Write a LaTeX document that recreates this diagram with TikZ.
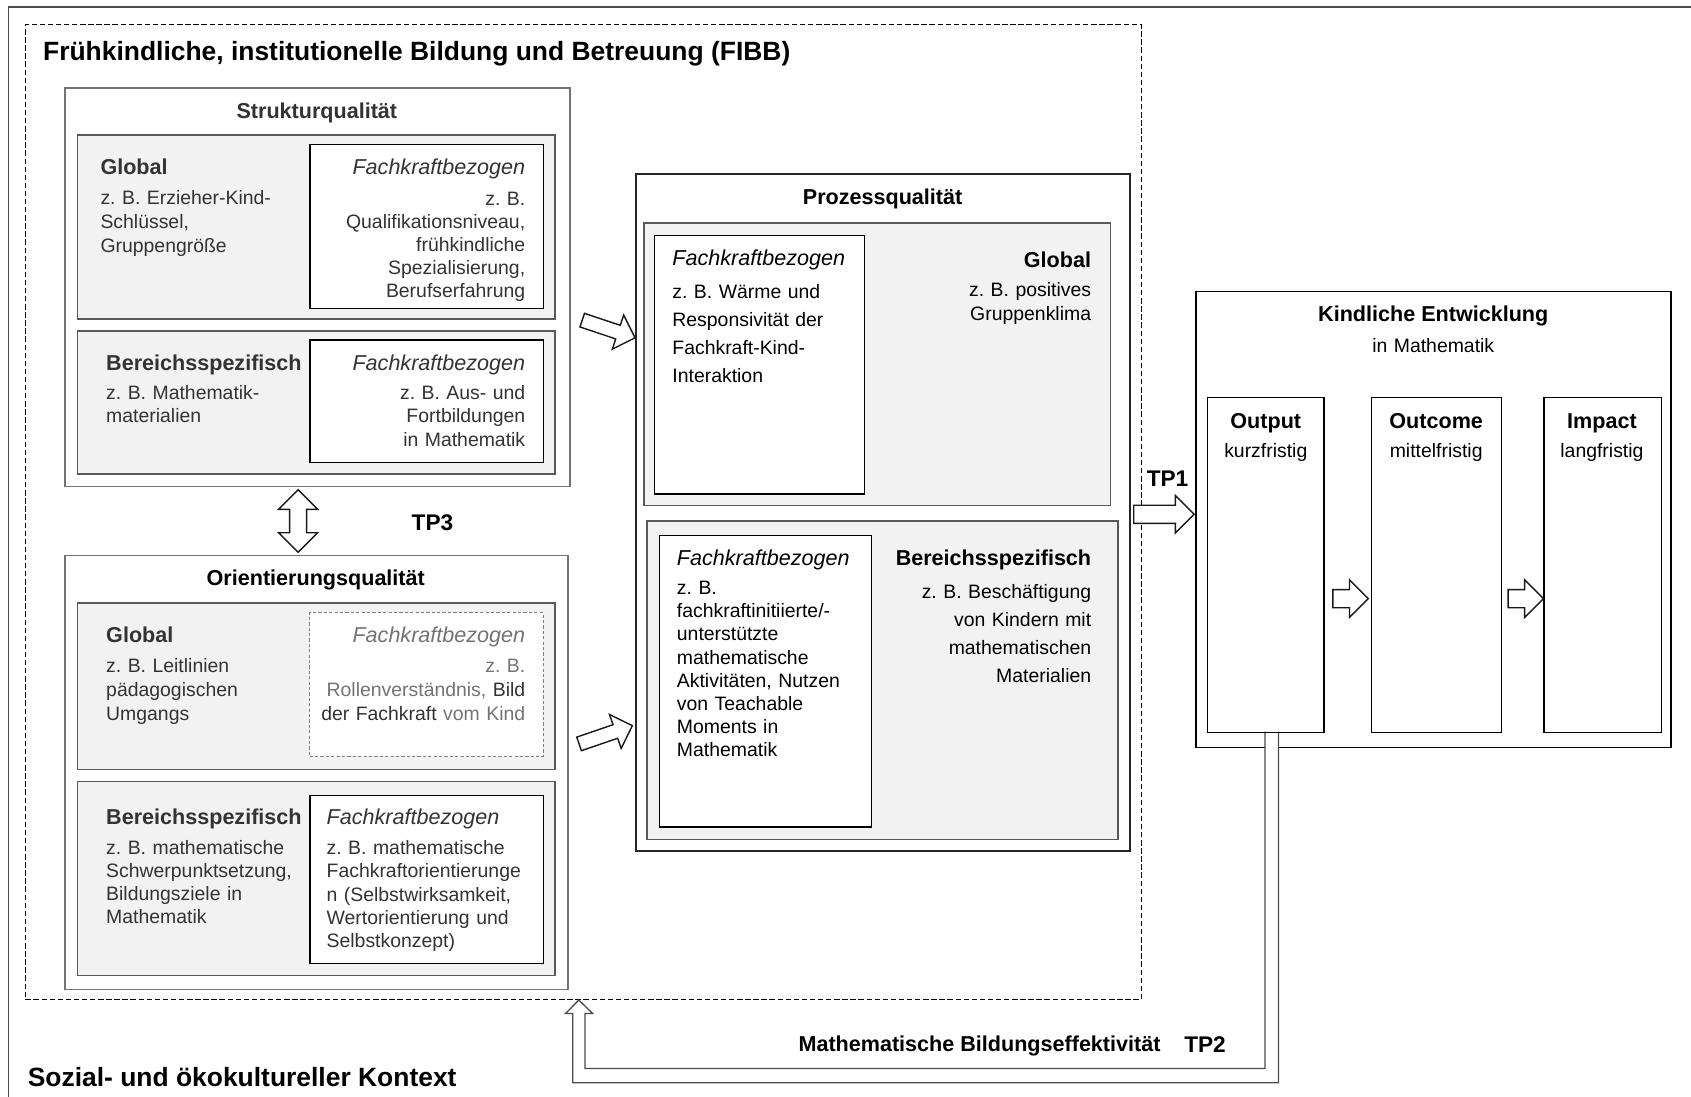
\documentclass[tikz,border=0pt]{standalone}
\usepackage{fontspec}
\setmainfont{Liberation Sans}
\usetikzlibrary{shapes.arrows,calc}

\begin{document}
\frenchspacing
\begin{tikzpicture}[x=1pt,y=-1pt,
  box/.style={draw,rectangle,inner sep=0,anchor=north west},
  qbox/.style={box,draw=black!55,line width=1.6pt},
  gbox/.style={box,draw=black!65,fill=black!5,line width=1.4pt},
  wbox/.style={box,draw=black,fill=white,line width=1.3pt},
  dim/.style={text=black!80},
  hd/.style={inner sep=0,font=\fontsize{20}{24}\selectfont\bfseries},
  fk/.style={inner sep=0,font=\fontsize{20}{24}\selectfont\itshape},
  big/.style={inner sep=0,font=\fontsize{24.5}{29}\selectfont\bfseries},
  tp/.style={inner sep=0,font=\fontsize{21}{25}\selectfont\bfseries},
  txt/.style={inner sep=0,text width=215pt,font=\fontsize{18}{#1}\selectfont},
  txt/.default=21.7,
  lt/.style={txt=#1,align=left,anchor=base west},
  lt/.default=21.7,
  rt/.style={txt=#1,align=right,anchor=base east},
  rt/.default=21.7,
  blk/.style={single arrow,draw=black!90,fill=white,line width=1.3pt,inner sep=0pt,
    minimum width=0pt,text height=7.75pt,text depth=7.75pt,single arrow head extend=9pt},
  slant/.style={blk,text height=6pt,text depth=6pt,single arrow head extend=10pt}
]
\useasboundingbox (0,0) rectangle (1568,1017);

\draw[black!70,line width=1.6pt] (7.8,1017) |- (1568,6.8);
\node[box,line width=1pt,dash pattern=on 5pt off 2.5pt,minimum width=1034.6pt,minimum height=904.1pt] (fibb) at (23,22.3) {};
\node[big,anchor=base west] (fibb-t) at (39.8,55.7) {Frühkindliche, institutionelle Bildung und Betreuung (FIBB)};

% Strukturqualitaet
\node[qbox,minimum width=468.4pt,minimum height=369.4pt] (sq) at (59.3,81) {};
\node[hd,dim,anchor=base] (sq-t) at (293.8,110) {Strukturqualität};
\node[gbox,minimum width=442.9pt,minimum height=170.9pt] (sq-g) at (71,124.3) {};
\node[wbox,minimum width=216.5pt,minimum height=151.8pt] (sq-gf) at (286.7,133.5) {};
\node[hd,dim,anchor=base west] (sq-g-h) at (93,161.9) {Global};
\node[lt=22.4,dim] (sq-g-t) at (93,189.7) {z. B. Erzieher-Kind-\\Schlüssel,\\Gruppengröße};
\node[fk,dim,anchor=base east] (sq-gf-h) at (487.2,161.9) {Fachkraftbezogen};
\node[rt=21.3,dim] (sq-gf-t) at (487.2,190.4) {z. B.\\Qualifikationsniveau,\\frühkindliche\\Spezialisierung,\\Berufserfahrung};
\node[gbox,minimum width=442.9pt,minimum height=132.9pt] (sq-b) at (71,306) {};
\node[wbox,minimum width=216.5pt,minimum height=113.4pt] (sq-bf) at (286.7,314.7) {};
\node[hd,dim,anchor=base west] (sq-b-h) at (98.3,343.3) {Bereichsspezifisch};
\node[lt,dim] (sq-b-t) at (98.3,370.5) {z. B. Mathematik-\\materialien};
\node[fk,dim,anchor=base east] (sq-bf-h) at (487.2,343.3) {Fachkraftbezogen};
\node[rt,dim] (sq-bf-t) at (487.2,370.5) {z. B. Aus- und\\Fortbildungen\\in Mathematik};

% Orientierungsqualitaet
\node[qbox,minimum width=466.7pt,minimum height=402.5pt] (oq) at (59.3,514.2) {};
\node[hd,anchor=base] (oq-t) at (292.8,543.1) {Orientierungsqualität};
\node[gbox,minimum width=442.9pt,minimum height=154.3pt] (oq-g) at (71,558.3) {};
\node[box,fill=white,draw=black!50,densely dashed,line width=0.8pt,minimum width=216.5pt,minimum height=133.2pt] (oq-gf) at (286.7,567.8) {};
\node[hd,dim,anchor=base west] (oq-g-h) at (98.3,596.2) {Global};
\node[lt=22,dim] (oq-g-t) at (98.3,623.8) {z. B. Leitlinien\\pädagogischen\\Umgangs};
\node[fk,text=black!55,anchor=base east] (oq-gf-h) at (487.2,596.2) {Fachkraftbezogen};
\node[rt=22,dim] (oq-gf-t) at (487.2,623.8) {\textcolor{black!55}{z. B.}\\\textcolor{black!55}{Rollenverständnis,} Bild\\der Fachkraft \textcolor{black!55}{vom Kind}};
\node[gbox,minimum width=442.9pt,minimum height=180pt] (oq-b) at (71,724) {};
\node[wbox,minimum width=216.5pt,minimum height=156pt] (oq-bf) at (286.7,736.7) {};
\node[hd,dim,anchor=base west] (oq-b-h) at (98.3,764.9) {Bereichsspezifisch};
\node[lt=21.4,dim] (oq-b-t) at (98.3,792.5) {z. B. mathematische\\Schwerpunktsetzung,\\Bildungsziele in\\Mathematik};
\node[fk,dim,anchor=base west] (oq-bf-h) at (302.7,764.9) {Fachkraftbezogen};
\node[lt=21.6,dim] (oq-bf-t) at (302.7,792.5) {z. B. mathematische\\Fachkraftorientierunge\\n (Selbstwirksamkeit,\\Wertorientierung und\\Selbstkonzept)};

\node[double arrow,draw=black!90,fill=white,line width=1.3pt,inner sep=0pt,minimum width=0pt,
  text height=7.25pt,text depth=7.25pt,double arrow head extend=10.25pt,
  minimum height=58pt,rotate=90] (a-tp3) at ($(sq.south)!.5!(oq.north)+(-17.4,0)$) {};
\node[tp,anchor=base] (tp3) at (401,492) {TP3};

% Prozessqualitaet
\node[box,draw=black!85,line width=1.6pt,minimum width=457.8pt,minimum height=628pt] (pq) at (589.2,160.4) {};
\node[hd,anchor=base] (pq-t) at (818.4,189.4) {Prozessqualität};
\node[gbox,minimum width=432.4pt,minimum height=262.2pt] (pq-g) at (596.6,206) {};
\node[wbox,minimum width=194.2pt,minimum height=239.7pt] (pq-gf) at (606.5,217.8) {};
\node[fk,anchor=base west] (pq-gf-h) at (623.3,246.4) {Fachkraftbezogen};
\node[lt=26] (pq-gf-t) at (623.3,276.8) {z. B. Wärme und\\Responsivität der\\Fachkraft-Kind-\\Interaktion};
\node[hd,anchor=base east] (pq-g-h) at (1011.9,247.7) {Global};
\node[rt=22] (pq-g-t) at (1011.9,274.8) {z. B. positives\\Gruppenklima};
\node[gbox,minimum width=436.9pt,minimum height=295.5pt] (pq-b) at (599.1,482.2) {};
\node[wbox,minimum width=196.7pt,minimum height=270.3pt] (pq-bf) at (610.8,495.9) {};
\node[fk,anchor=base west] (pq-bf-h) at (627.5,524.4) {Fachkraftbezogen};
\node[lt=21.4] (pq-bf-t) at (627.5,551.5) {z. B.\\fachkraftinitiierte/-\\unterstützte\\mathematische\\Aktivitäten, Nutzen\\von Teachable\\Moments in\\Mathematik};
\node[hd,anchor=base east] (pq-b-h) at (1012,524.4) {Bereichsspezifisch};
\node[rt=25.9] (pq-b-t) at (1012,554.8) {z. B. Beschäftigung\\von Kindern mit\\mathematischen\\Materialien};

\node[slant,minimum height=51.6pt,rotate=-18.5] (a-sq) at (561.2,304) {};
\node[slant,minimum height=52.2pt,rotate=18.9] (a-oq) at (558.5,682.4) {};

% Kindliche Entwicklung
\node[box,line width=1.4pt,minimum width=440pt,minimum height=422.9pt] (ke) at (1108.5,269.5) {};
\node[hd,anchor=base] (ke-t) at (1329,298.5) {Kindliche Entwicklung};
\node[txt,align=center,anchor=base] (ke-s) at (1329,327.3) {in Mathematik};

\coordinate (fb-tip) at (536.7,927.3);
\draw[black!70,line width=1.2pt,fill=white] (1173,678.5) |- (542.4,990.7) -- (542.4,939.7)
  -- (549.5,939.7) -- (fb-tip) -- (524.4,939.7) -- (531,939.7) |- (1185.5,1004) -- (1185.5,678.5);

\node[box,line width=1.3pt,minimum width=108pt,minimum height=310.7pt] (ke-1) at (1119,367.8) {};
\node[box,line width=1.3pt,minimum width=120.9pt,minimum height=310.7pt] (ke-2) at (1270.9,367.8) {};
\node[box,line width=1.3pt,minimum width=108.7pt,minimum height=310.7pt] (ke-3) at (1431,367.8) {};
\node[hd,anchor=base] (ke-1-h) at (1173.7,397.4) {Output};
\node[txt,align=center,anchor=base] (ke-1-t) at (1173.7,424.6) {kurzfristig};
\node[hd,anchor=base] (ke-2-h) at (1331.7,397.4) {Outcome};
\node[txt,align=center,anchor=base] (ke-2-t) at (1331.7,424.6) {mittelfristig};
\node[hd,anchor=base] (ke-3-h) at (1485.4,397.4) {Impact};
\node[txt,align=center,anchor=base] (ke-3-t) at (1485.4,424.6) {langfristig};

\node[blk,minimum height=32.8pt] (a-ke1) at ($(ke-1.east)!.5!(ke-2.west)+(-1.5,31.3)$) {};
\node[blk,minimum height=32.8pt] (a-ke2) at ($(ke-2.east)!.5!(ke-3.west)+(-1.5,31.3)$) {};

\node[blk,minimum height=56pt] (a-tp1) at ($(pq.east)!.5!(ke.west)+(-3.5,-1.5)$) {};
\node[tp,anchor=base] (tp1) at (1082.6,450.7) {TP1};

\node[hd,anchor=base] (fb-t) at (908.3,975.4) {Mathematische Bildungseffektivität};
\node[tp,anchor=base] (tp2) at (1117.4,975.7) {TP2};

\node[big,anchor=base west] (kontext) at (25.6,1007.2) {Sozial- und ökokultureller Kontext};

\end{tikzpicture}
\end{document}
